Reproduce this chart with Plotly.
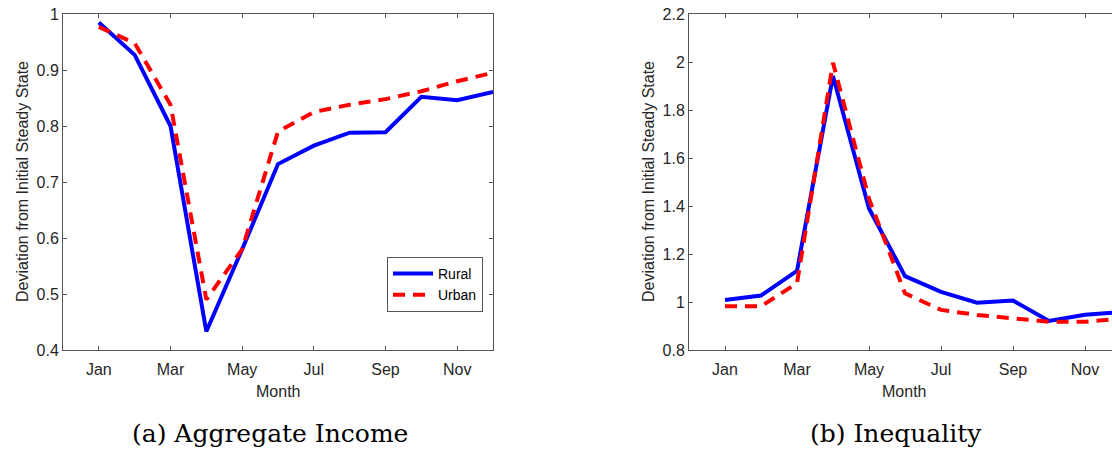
import plotly.graph_objects as go

months = [1, 2, 3, 4, 5, 6, 7, 8, 9, 10, 11, 12]
tick_vals = [1, 3, 5, 7, 9, 11]
tick_text = ["Jan", "Mar", "May", "Jul", "Sep", "Nov"]

income_rural = [0.985, 0.927, 0.800, 0.433, 0.580, 0.732, 0.765, 0.788, 0.789, 0.852, 0.846, 0.861]
income_urban = [0.977, 0.948, 0.838, 0.490, 0.580, 0.790, 0.825, 0.838, 0.848, 0.862, 0.880, 0.895]

ineq_rural = [1.008, 1.027, 1.130, 1.942, 1.390, 1.108, 1.042, 0.997, 1.006, 0.921, 0.947, 0.958]
ineq_urban = [0.982, 0.982, 1.078, 1.997, 1.430, 1.036, 0.967, 0.946, 0.932, 0.918, 0.918, 0.930]

BLUE = "#0000ff"
RED = "#ff0000"
AX = "#555555"
TXT = "#262626"
FONT = "Liberation Sans, Arial, sans-serif"

fig = go.Figure()

fig.add_trace(go.Scatter(x=months, y=income_rural, mode="lines", name="Rural",
                         line=dict(color=BLUE, width=4), xaxis="x", yaxis="y"))
fig.add_trace(go.Scatter(x=months, y=income_urban, mode="lines", name="Urban",
                         line=dict(color=RED, width=4, dash="12px,8px"), xaxis="x", yaxis="y"))
fig.add_trace(go.Scatter(x=months, y=ineq_rural, mode="lines", name="Rural", showlegend=False,
                         line=dict(color=BLUE, width=4), xaxis="x2", yaxis="y2"))
fig.add_trace(go.Scatter(x=months, y=ineq_urban, mode="lines", name="Urban", showlegend=False,
                         line=dict(color=RED, width=4, dash="12px,8px"), xaxis="x2", yaxis="y2"))

common_x = dict(tickvals=tick_vals, ticktext=tick_text, ticks="inside", ticklen=4,
                tickcolor=AX, showline=True, linecolor=AX, linewidth=1, mirror="ticks",
                showgrid=False, zeroline=False, automargin=False, ticklabelstandoff=5,
                tickfont=dict(size=16, color=TXT, family=FONT))
common_y = dict(ticks="inside", ticklen=4, tickcolor=AX, showline=True, linecolor=AX, linewidth=1,
                showgrid=False, zeroline=False, automargin=False,
                tickfont=dict(size=16, color=TXT, family=FONT))

ydom = [1 - 350 / 452, 1 - 14 / 452]

title_font = dict(size=16, color=TXT, family=FONT)
cap_font = dict(size=25, color="black", family="DejaVu Serif, serif")

annotations = []
for xc in [278 / 1112, 904 / 1112]:
    annotations.append(dict(text="Month", x=xc, y=1 - 391 / 452, xref="paper", yref="paper",
                            showarrow=False, font=title_font, xanchor="center", yanchor="middle"))
for xc in [22 / 1112, 648 / 1112]:
    annotations.append(dict(text="Deviation from Initial Steady State", x=xc, y=1 - 182 / 452,
                            xref="paper", yref="paper", textangle=-90, showarrow=False,
                            font=title_font, xanchor="center", yanchor="middle"))
annotations.append(dict(text="(a) Aggregate Income", x=270 / 1112, y=1 - 433 / 452, xref="paper",
                        yref="paper", showarrow=False, font=cap_font, xanchor="center", yanchor="middle"))
annotations.append(dict(text="(b) Inequality", x=896 / 1112, y=1 - 433 / 452, xref="paper",
                        yref="paper", showarrow=False, font=cap_font, xanchor="center", yanchor="middle"))

fig.update_layout(
    width=1112, height=452,
    margin=dict(l=0, r=0, t=0, b=0, autoexpand=False),
    paper_bgcolor="white", plot_bgcolor="white",
    xaxis=dict(domain=[63 / 1112, 493 / 1112], range=[0, 12], anchor="y", **common_x),
    yaxis=dict(domain=ydom, range=[0.4, 1.0], dtick=0.1, tickformat="~g", anchor="x",
               mirror="ticks", **common_y),
    xaxis2=dict(domain=[689 / 1112, 1.0], range=[0, 11.75], anchor="y2", **common_x),
    yaxis2=dict(domain=ydom, range=[0.8, 2.2], dtick=0.2, tickformat="~g", anchor="x2",
                mirror=False, **common_y),
    legend=dict(x=483 / 1112, y=1 - 312 / 452, xanchor="right", yanchor="bottom",
                bgcolor="white", bordercolor=AX, borderwidth=1,
                font=dict(size=14, color="black", family=FONT),
                tracegroupgap=0, itemwidth=40),
    showlegend=True,
    annotations=annotations,
)

fig.write_html("out.html")
